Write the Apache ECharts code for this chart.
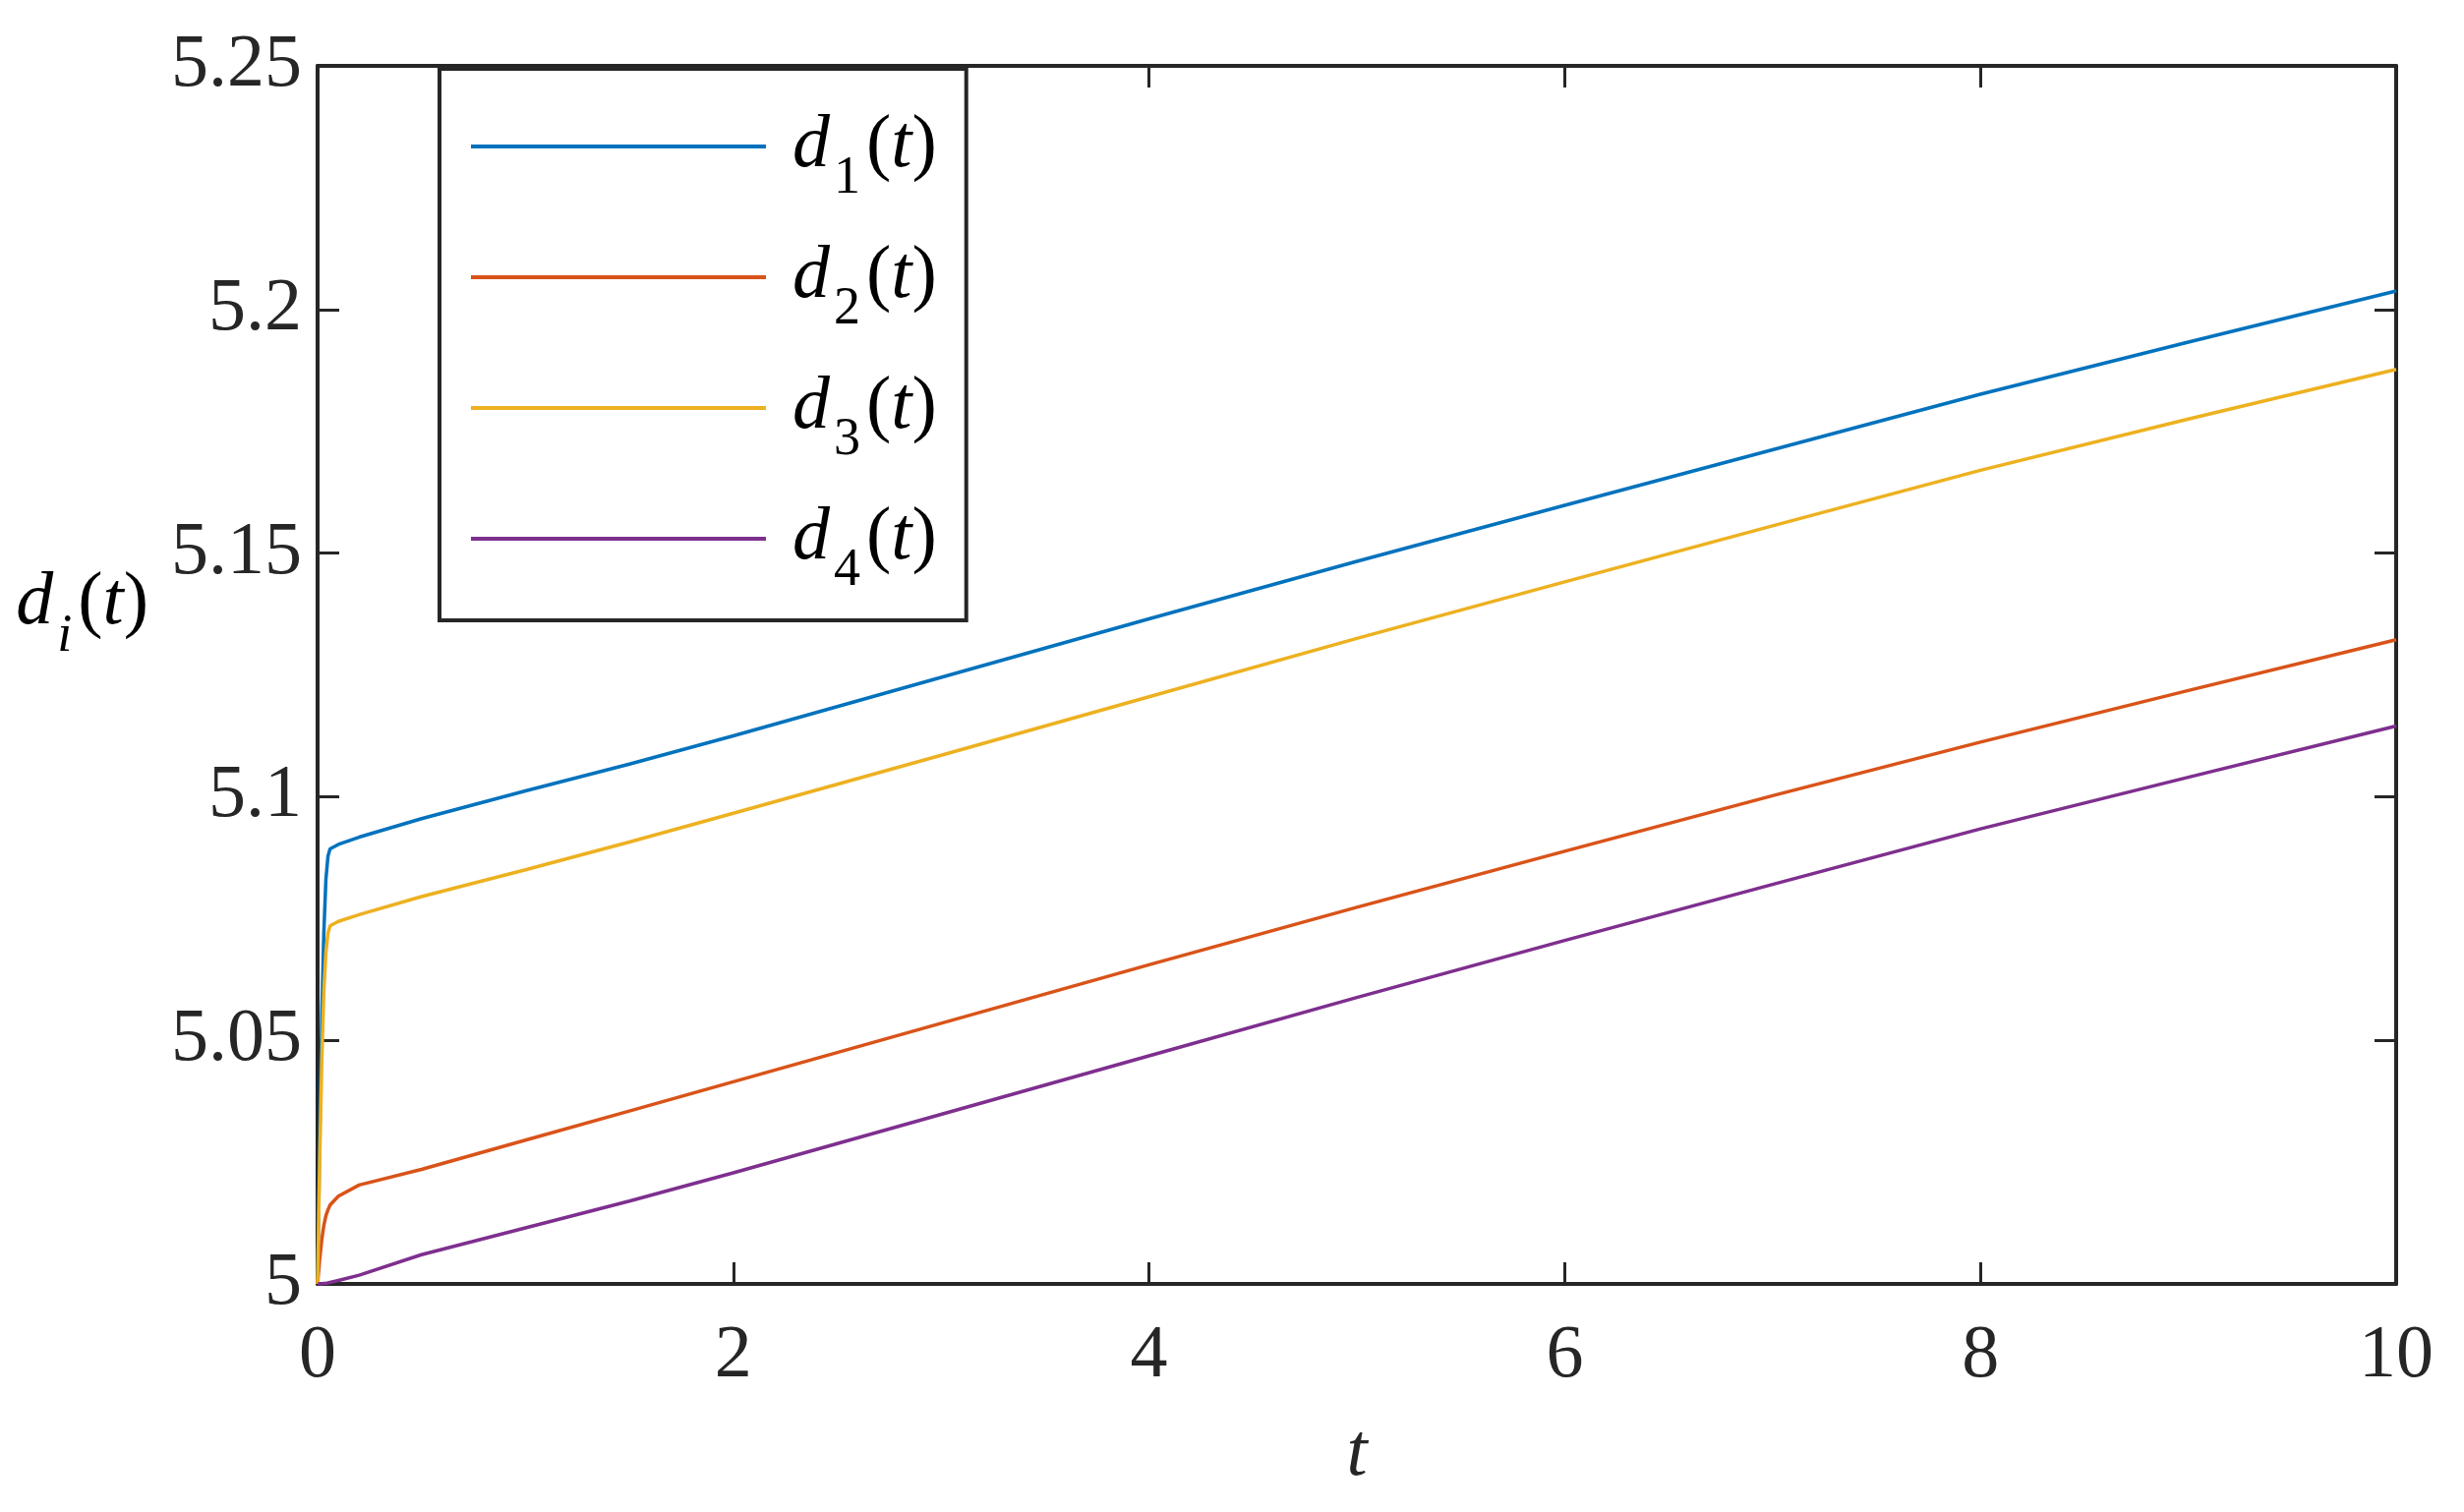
<!DOCTYPE html>
<html>
<head>
<meta charset="utf-8">
<script src="https://cdn.jsdelivr.net/npm/echarts@6/dist/echarts.min.js"></script>
<style>
html,body{margin:0;padding:0;background:#fff;}
#chart{width:2506px;height:1538px;}
</style>
</head>
<body>
<div id="chart"></div>
<script>
const tValues = [0, 0.01, 0.02, 0.03, 0.04, 0.05, 0.06, 0.1, 0.2, 0.5, 1, 1.5, 2, 3, 4, 5, 6, 7, 8, 9, 10];
const d1Values = [5, 5.030, 5.055, 5.072, 5.083, 5.0878, 5.0893, 5.0902, 5.0917, 5.0955, 5.1012, 5.1067, 5.1125, 5.1245, 5.1365, 5.1483, 5.1598, 5.1712, 5.1826, 5.1933, 5.2038];
const d2Values = [5, 5.005, 5.009, 5.012, 5.014, 5.0152, 5.0162, 5.0180, 5.0203, 5.0235, 5.0295, 5.0355, 5.0415, 5.0535, 5.0655, 5.0773, 5.0888, 5.1002, 5.1112, 5.1218, 5.1322];
const d3Values = [5, 5.025, 5.045, 5.060, 5.068, 5.0720, 5.0735, 5.0744, 5.0758, 5.0795, 5.0850, 5.0907, 5.0966, 5.1085, 5.1205, 5.1325, 5.1441, 5.1556, 5.1670, 5.1775, 5.1877];
const d4Values = [5, 5.0000, 5.0000, 5.0001, 5.0001, 5.0002, 5.0003, 5.0007, 5.0018, 5.0060, 5.0115, 5.0170, 5.0228, 5.0348, 5.0468, 5.0588, 5.0705, 5.0820, 5.0934, 5.1040, 5.1145];
const seriesNames = ['d1', 'd2', 'd3', 'd4'];
const seriesColors = ['#0072BD', '#D95319', '#EDB120', '#7E2F8E'];
const xTicks = {min: 0, max: 10, interval: 2};
const yTicks = {min: 5, max: 5.25, interval: 0.05};

const FONT = '"Liberation Serif", "Times New Roman", serif';
const AX = '#262626';
const allValues = [d1Values, d2Values, d3Values, d4Values];

const chart = echarts.init(document.getElementById('chart'), null, {renderer: 'canvas'});

function richSet(subItalic) {
  return {
    i: {fontFamily: FONT, fontStyle: 'italic', fontSize: 76, color: '#000', lineHeight: 120},
    n: {fontFamily: FONT, fontSize: 76, color: '#000', lineHeight: 120},
    s: {fontFamily: FONT, fontStyle: subItalic ? 'italic' : 'normal', fontSize: 54, color: '#000', lineHeight: 54, verticalAlign: 'bottom', padding: [0, 6, 0, 4]}
  };
}

const axisCommon = {
  axisLine: {show: true, onZero: false, lineStyle: {color: AX, width: 4}},
  axisTick: {show: true, inside: true, length: 22, lineStyle: {color: AX, width: 3}},
  splitLine: {show: false}
};

const option = {
  backgroundColor: '#fff',
  animation: false,
  grid: {left: 323, right: 69, top: 67, bottom: 232, containLabel: false},
  legend: {
    data: seriesNames,
    orient: 'vertical',
    left: 447,
    top: 70,
    icon: 'rect',
    itemWidth: 300,
    itemHeight: 4,
    itemGap: 35,
    padding: [41, 30, 23, 32],
    borderColor: AX,
    borderWidth: 4,
    backgroundColor: '#fff',
    formatter: function (name) {
      return '{i|d}{s|' + name.slice(1) + '}{n|(}{i|t}{n|)}';
    },
    textStyle: {padding: [0, 0, 0, 22], rich: richSet(false)}
  },
  xAxis: [
    Object.assign({
      type: 'value', position: 'bottom',
      min: xTicks.min, max: xTicks.max, interval: xTicks.interval,
      name: 't', nameLocation: 'middle', nameGap: 136,
      nameTextStyle: {fontFamily: FONT, fontStyle: 'italic', fontSize: 76, color: AX},
      axisLabel: {fontFamily: FONT, fontSize: 76, color: AX, margin: 36}
    }, axisCommon),
    Object.assign({
      type: 'value', position: 'top',
      min: xTicks.min, max: xTicks.max, interval: xTicks.interval,
      axisLabel: {show: false}
    }, axisCommon)
  ],
  yAxis: [
    Object.assign({
      type: 'value', position: 'left',
      min: yTicks.min, max: yTicks.max, interval: yTicks.interval,
      name: '{i|d}{s|i}{n|(}{i|t}{n|)}', nameLocation: 'middle', nameRotate: 0, nameGap: 172,
      nameTextStyle: {align: 'right', padding: [0, 0, 144, 0], rich: richSet(true)},
      axisLabel: {fontFamily: FONT, fontSize: 76, color: AX, margin: 16}
    }, axisCommon),
    Object.assign({
      type: 'value', position: 'right',
      min: yTicks.min, max: yTicks.max, interval: yTicks.interval,
      axisLabel: {show: false}
    }, axisCommon)
  ],
  series: seriesNames.map(function (name, k) {
    return {
      name: name,
      type: 'line',
      xAxisIndex: 0,
      yAxisIndex: 0,
      showSymbol: false,
      symbol: 'none',
      smooth: false,
      color: seriesColors[k],
      lineStyle: {width: 3.5, color: seriesColors[k]},
      data: tValues.map(function (t, j) { return [t, allValues[k][j]]; })
    };
  })
};

chart.setOption(option);
</script>
</body>
</html>
